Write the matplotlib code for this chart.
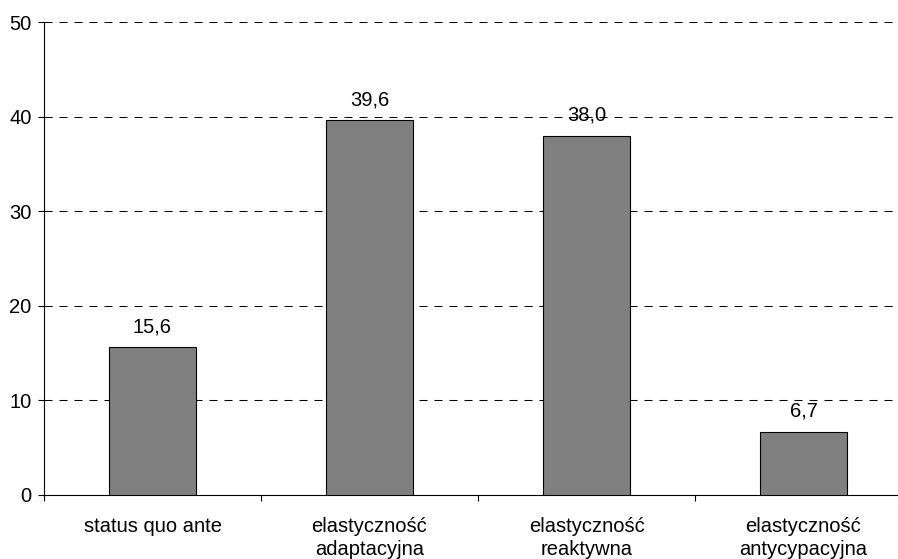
"""Wykres slupkowy: typy elastycznosci."""

import matplotlib

matplotlib.use("Agg")
import matplotlib.pyplot as plt
import numpy as np

kategorie = [
    "status quo ante",
    "elastyczność\nadaptacyjna",
    "elastyczność\nreaktywna",
    "elastyczność\nantycypacyjna",
]
wartosci = [15.6, 39.6, 38.0, 6.7]
yticki = [0, 10, 20, 30, 40, 50]

plt.rcParams["font.family"] = ["Liberation Sans", "DejaVu Sans"]
plt.rcParams["font.size"] = 14.5

fig = plt.figure(figsize=(8.98, 5.59), dpi=100)
# prawa krawedz osi wychodzi poza obraz (jak w oryginale)
ax = fig.add_axes([44 / 898, 64 / 559, 868 / 898, 473 / 559])

x = np.arange(len(kategorie))
ax.bar(x, wartosci, width=0.4, color="#808080", edgecolor="black", linewidth=0.8, zorder=3)

for xi, v in zip(x, wartosci):
    ax.annotate(
        f"{v:.1f}".replace(".", ","),
        (xi, v),
        xytext=(0, 8),
        textcoords="offset points",
        ha="center",
        va="bottom",
        zorder=4,
    )

ax.set_xlim(-0.5, len(kategorie) - 0.5)
ax.set_ylim(0, 50)
ax.set_yticks(yticki)
for y in yticki[1:]:
    ax.axhline(y, color="black", linewidth=0.75, dashes=(7.7, 6.7), zorder=2)

ax.set_xticks(x)
ax.set_xticklabels(kategorie, linespacing=1.25)
ax.set_xticks(np.arange(len(kategorie) + 1) - 0.5, minor=True)
ax.tick_params(axis="x", which="major", length=0, pad=16)
ax.tick_params(axis="x", which="minor", length=4.5, width=0.8, direction="out")
ax.tick_params(axis="y", length=4, width=0.8, pad=5)

for side in ("top", "right"):
    ax.spines[side].set_visible(False)
for side in ("left", "bottom"):
    ax.spines[side].set_linewidth(0.8)

fig.savefig("out.png", dpi=100)
